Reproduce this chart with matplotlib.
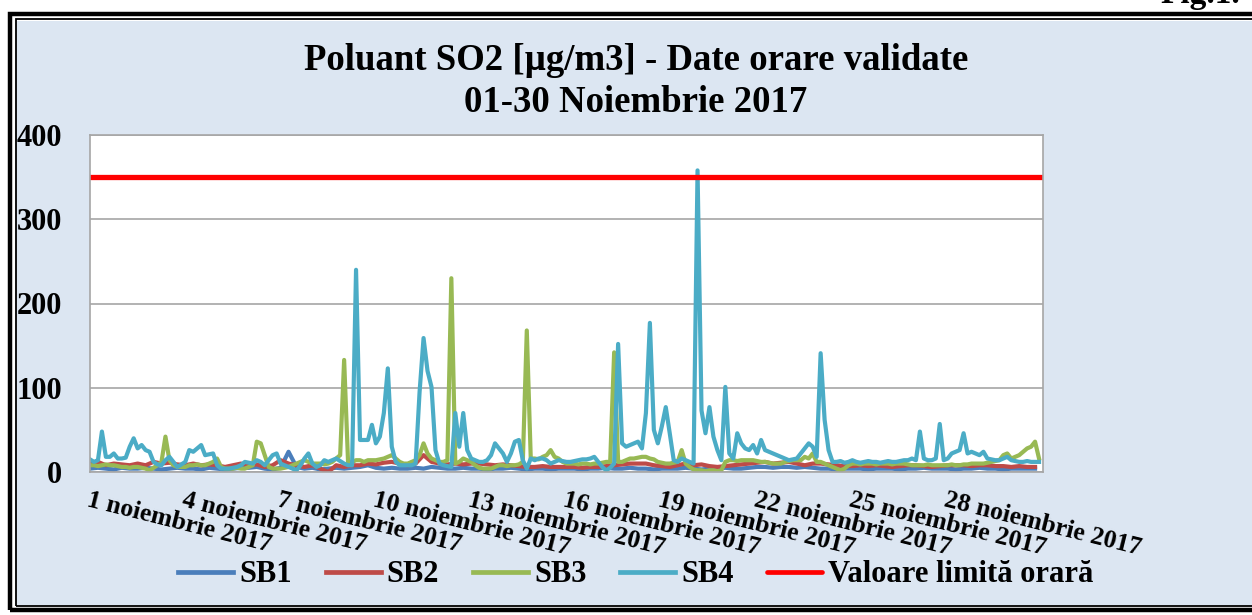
import matplotlib
matplotlib.use("Agg")
import matplotlib.pyplot as plt
import numpy as np
from matplotlib.patches import Rectangle

plt.rcParams['font.family'] = ['Liberation Serif', 'DejaVu Serif']
plt.rcParams['font.weight'] = 'bold'

# date orare SO2 (SB3/SB4 la 3 ore, SB1/SB2 la 6 ore)
sb1 = [4, 5, 4, 3, 5, 4, 4, 5, 4, 3, 4, 5, 4, 4, 3, 5, 4, 3, 4, 5,
       5, 6, 4, 3, 5, 24, 6, 4, 5, 3, 4, 5, 4, 5, 6, 8, 5, 4, 5, 4,
       4, 5, 4, 6, 5, 4, 4, 5, 4, 4, 3, 4, 4, 5, 4, 3, 4, 4, 3, 4,
       4, 4, 3, 4, 4, 5, 4, 4, 5, 4, 4, 3, 4, 4, 4, 5, 4, 3, 4, 4,
       5, 4, 4, 5, 6, 6, 5, 6, 6, 5, 6, 5, 4, 4, 3, 4, 4, 4, 3, 4,
       4, 4, 3, 4, 4, 5, 4, 4, 4, 3, 4, 4, 5, 4, 4, 3, 4, 4, 4, 4]
sb2 = [10, 12, 8, 10, 9, 8, 10, 8, 12, 10, 11, 9, 8, 10, 8, 9, 8, 6, 8, 10,
       8, 9, 6, 8, 14, 10, 8, 6, 8, 4, 0, 8, 6, 8, 8, 10, 9, 11, 12, 10,
       8, 10, 20, 12, 10, 9, 10, 9, 10, 10, 9, 8, 9, 8, 7, 6, 6, 7, 6, 6,
       6, 6, 5, 6, 6, 7, 8, 9, 10, 10, 10, 8, 7, 6, 8, 10, 8, 9, 7, 6,
       7, 8, 9, 10, 11, 12, 10, 11, 12, 10, 8, 10, 10, 9, 8, 7, 7, 8, 7, 8,
       7, 6, 7, 8, 8, 7, 6, 7, 8, 8, 8, 7, 8, 8, 7, 7, 6, 7, 6, 6]
sb3 = [8, 8, 7, 8, 9, 8, 8, 7, 6, 6, 5, 6, 6, 5, 4, 2, 5, 8, 12, 42,
       14, 8, 6, 6, 6, 8, 8, 9, 8, 8, 10, 12, 16, 6, 4, 4, 4, 5, 4, 4,
       6, 8, 36, 34, 20, 6, 4, 4, 4, 5, 6, 8, 10, 12, 14, 12, 10, 10, 10, 9,
       10, 12, 16, 20, 133, 10, 12, 14, 14, 12, 14, 14, 14, 15, 16, 18, 20, 16, 12, 10,
       10, 12, 14, 20, 34, 22, 16, 14, 12, 12, 14, 230, 10, 12, 16, 14, 12, 8, 5, 4,
       4, 4, 6, 8, 8, 7, 8, 8, 9, 12, 168, 16, 16, 15, 18, 20, 26, 18, 16, 12,
       10, 10, 10, 9, 10, 10, 9, 10, 10, 11, 12, 12, 142, 12, 12, 14, 16, 16, 17, 18,
       18, 16, 15, 12, 11, 10, 10, 11, 12, 26, 10, 6, 3, 2, 2, 1, 2, 2, 1, 2,
       12, 14, 14, 13, 14, 14, 14, 14, 13, 12, 12, 11, 10, 10, 10, 12, 13, 14, 14, 14,
       18, 16, 22, 12, 12, 10, 8, 6, 4, 2, 4, 8, 10, 10, 9, 10, 10, 10, 9, 10,
       10, 10, 9, 10, 10, 10, 9, 8, 8, 8, 8, 9, 8, 8, 8, 8, 8, 9, 8, 8,
       9, 9, 10, 10, 10, 10, 11, 12, 13, 14, 20, 22, 16, 18, 20, 24, 28, 30, 36, 16]
sb4 = [15, 12, 14, 48, 18, 18, 22, 16, 16, 17, 30, 40, 28, 32, 26, 24, 12, 9, 8, 14,
       18, 12, 6, 9, 12, 26, 24, 28, 32, 20, 21, 22, 8, 4, 4, 4, 5, 6, 8, 12,
       11, 10, 14, 12, 8, 14, 20, 22, 10, 8, 6, 4, 2, 8, 16, 22, 10, 6, 8, 14,
       12, 14, 16, 13, 10, 8, 8, 240, 38, 38, 38, 56, 34, 42, 70, 123, 30, 12, 8, 8,
       8, 8, 10, 95, 159, 120, 101, 26, 10, 8, 7, 6, 70, 30, 70, 26, 16, 14, 12, 12,
       14, 20, 34, 28, 22, 12, 22, 36, 38, 14, 4, 16, 14, 16, 16, 14, 10, 12, 14, 13,
       12, 12, 13, 14, 15, 15, 16, 18, 12, 6, 2, 5, 10, 152, 34, 30, 32, 34, 36, 28,
       70, 177, 50, 34, 54, 77, 46, 14, 12, 16, 14, 12, 10, 358, 73, 46, 77, 42, 26, 14,
       101, 22, 16, 46, 34, 28, 26, 32, 22, 38, 26, 24, 22, 20, 18, 16, 14, 15, 16, 22,
       28, 34, 30, 18, 141, 62, 26, 12, 12, 13, 11, 12, 14, 12, 11, 12, 13, 12, 12, 11,
       12, 13, 12, 12, 13, 14, 14, 16, 14, 48, 16, 14, 14, 16, 57, 14, 16, 22, 24, 26,
       46, 22, 24, 22, 20, 24, 16, 15, 14, 14, 16, 18, 14, 13, 12, 12, 13, 12, 12, 12]
limita = 350

serii = ['SB1', 'SB2', 'SB3', 'SB4']
culori = ['#4a7ebb', '#be4b48', '#98b954', '#4bacc6']
zile_etichete = [1, 4, 7, 10, 13, 16, 19, 22, 25, 28]

# ore de la 1 noiembrie 00:00
ore_6 = np.arange(len(sb1)) * 6
ore_3 = np.arange(len(sb3)) * 3

fig = plt.figure(figsize=(12.52, 6.15), dpi=100)
fig.patch.set_facecolor('white')

# fundal + rama dubla
W, H = 1252.0, 615.0
fig.patches.append(Rectangle((17 / W, 1 - 605 / H), 1.1, (605 - 21) / H, transform=fig.transFigure,
                             facecolor='#dce6f2', edgecolor='none', zorder=-3))
fig.patches.append(Rectangle((16 / W, 1 - 606 / H), 1.1, (606 - 19) / H, transform=fig.transFigure,
                             facecolor='none', edgecolor='black', lw=1.3, zorder=-2))
fig.patches.append(Rectangle((10 / W, 1 - 610 / H), 1.1, (610 - 14) / H, transform=fig.transFigure,
                             facecolor='none', edgecolor='black', lw=3.2, zorder=-2))

ax = fig.add_axes([90 / W, 1 - 472 / H, (1043 - 90) / W, (472 - 135) / H])
ax.set_facecolor('white')

date = [sb1, sb2, sb3, sb4]
ore = [ore_6, ore_6, ore_3, ore_3]
for nume, cul, y, x in zip(serii, culori, date, ore):
    ax.plot(x, y, color=cul, lw=3.0, label=nume, solid_joinstyle='round')
ax.axhline(limita, color='#ff0000', lw=3.8, label='Valoare limită orară', solid_capstyle='round')

ax.set_xlim(0, 720)
ax.set_ylim(0, 400)
ax.set_yticks([0, 100, 200, 300, 400])
ax.yaxis.grid(True, color='#a6a6a6', lw=1.2)
ax.set_axisbelow(True)
for s in ax.spines.values():
    s.set_color('#a6a6a6')
    s.set_linewidth(1.2)

ax.set_xticks([(d - 1) * 24 for d in zile_etichete])
ax.set_xticklabels([f'{d} noiembrie 2017' for d in zile_etichete], rotation=-14,
                   ha='left', va='top', rotation_mode='anchor', fontsize=18.5, fontweight='bold')
ax.tick_params(axis='x', length=0, pad=12)
ax.tick_params(axis='y', length=0, pad=20, labelsize=22)
for t in ax.get_yticklabels():
    t.set_fontweight('bold')

fig.text(0.508, 1 - 61 / H, 'Poluant SO2 [µg/m3] - Date orare validate', ha='center', va='center',
         fontsize=26.5, fontweight='bold')
fig.text(0.508, 1 - 102 / H, '01-30 Noiembrie 2017', ha='center', va='center',
         fontsize=26.5, fontweight='bold')
fig.text(1160 / W, 1 - 3 / H, 'Fig.1.', ha='left', va='baseline', fontsize=24, fontweight='bold')

leg = fig.legend(loc='center', bbox_to_anchor=(0.508, 1 - 575 / H), ncol=5, frameon=False,
                 prop={'size': 22, 'weight': 'bold'}, handlelength=1.8, handletextpad=0.2,
                 columnspacing=1.1)
for h in leg.get_lines():
    h.set_linewidth(3.4)

fig.savefig('out.png', dpi=100)
